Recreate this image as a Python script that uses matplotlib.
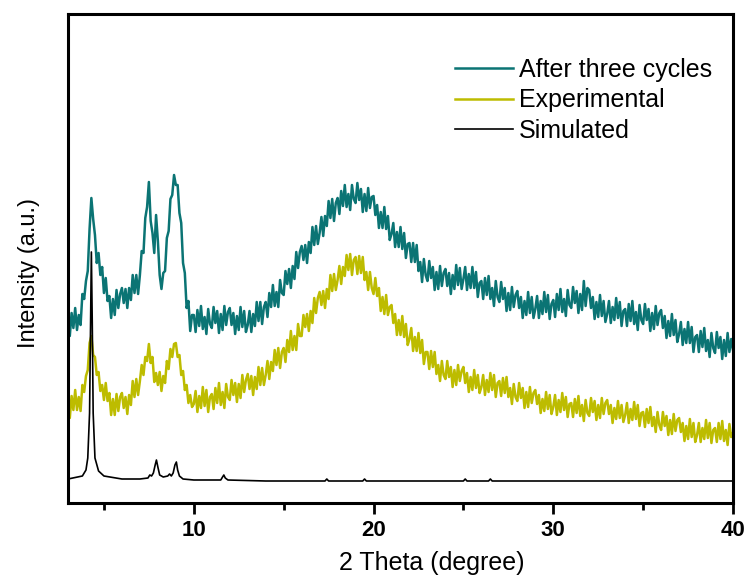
"""
XRD patterns: simulated vs. experimental vs. after three cycles.
Saves out.png (747x581).
"""
import matplotlib
matplotlib.use("Agg")
import matplotlib.pyplot as plt
import numpy as np

# --- data (intensity in a.u.) ---
# noisy patterns sampled every 0.1 deg from 3 to 40 deg
after_cycles = [
    183, 167, 190, 175, 195, 173, 188, 178, 209, 204,
    222, 232, 274, 305, 284, 268, 240, 250, 228, 236,
    210, 225, 202, 207, 185, 204, 188, 213, 195, 209,
    215, 200, 214, 195, 215, 203, 228, 210, 228, 209,
    228, 252, 250, 285, 296, 321, 282, 270, 250, 288,
    262, 228, 214, 230, 232, 265, 272, 304, 308, 328,
    318, 318, 290, 280, 240, 230, 195, 202, 172, 188,
    188, 171, 193, 177, 197, 174, 186, 169, 194, 179,
    175, 196, 180, 192, 170, 189, 173, 197, 178, 191,
    195, 178, 190, 169, 187, 173, 196, 176, 192, 171,
    178, 192, 171, 189, 177, 201, 182, 201, 179, 196,
    201, 186, 210, 196, 218, 197, 211, 196, 223, 210,
    208, 232, 219, 234, 215, 237, 224, 251, 235, 251,
    257, 243, 258, 240, 261, 250, 276, 258, 277, 259,
    270, 286, 267, 287, 277, 302, 285, 304, 282, 300,
    305, 289, 312, 297, 318, 296, 309, 293, 318, 304,
    300, 320, 303, 314, 291, 309, 292, 315, 295, 306,
    307, 288, 298, 275, 291, 275, 296, 274, 287, 263,
    269, 280, 256, 271, 256, 276, 254, 270, 245, 259,
    260, 241, 260, 241, 258, 232, 241, 221, 244, 228,
    222, 242, 225, 236, 213, 231, 214, 237, 217, 230,
    234, 217, 230, 209, 228, 214, 238, 218, 235, 214,
    224, 236, 213, 229, 215, 236, 215, 231, 206, 220,
    222, 204, 225, 208, 227, 204, 215, 197, 222, 206,
    201, 221, 204, 215, 192, 210, 193, 216, 196, 208,
    212, 195, 206, 185, 202, 188, 211, 190, 206, 185,
    194, 207, 185, 202, 189, 211, 191, 208, 184, 199,
    203, 186, 209, 193, 214, 191, 204, 187, 213, 198,
    195, 216, 200, 212, 190, 209, 193, 222, 197, 215,
    213, 195, 206, 184, 201, 186, 208, 187, 202, 181,
    189, 202, 180, 196, 183, 205, 185, 201, 177, 192,
    194, 177, 199, 182, 202, 179, 191, 173, 198, 183,
    179, 199, 183, 194, 172, 190, 174, 197, 178, 190,
    193, 175, 187, 165, 182, 167, 189, 168, 183, 161,
    169, 181, 158, 174, 160, 181, 160, 176, 151, 166,
    168, 151, 172, 156, 175, 152, 163, 146, 170, 155,
    150, 171, 155, 166, 144, 163, 147, 170, 151, 164,
    153,
]

experimental = [
    100, 85, 107, 93, 113, 93, 106, 92, 118, 111,
    127, 133, 160, 167, 148, 146, 128, 131, 112, 118,
    103, 120, 102, 110, 88, 104, 88, 109, 92, 106,
    110, 95, 106, 89, 108, 98, 122, 106, 124, 108,
    122, 138, 128, 146, 142, 159, 140, 146, 121, 130,
    118, 131, 112, 127, 120, 142, 134, 154, 146, 159,
    160, 146, 148, 128, 132, 113, 118, 100, 108, 96,
    99, 112, 91, 107, 95, 116, 97, 113, 91, 106,
    109, 94, 115, 100, 120, 98, 111, 95, 119, 106,
    103, 123, 108, 120, 101, 119, 105, 128, 111, 123,
    129, 114, 127, 108, 126, 114, 136, 118, 135, 118,
    128, 142, 124, 141, 132, 153, 138, 155, 135, 151,
    155, 141, 163, 151, 172, 153, 167, 153, 179, 167,
    167, 188, 176, 189, 172, 192, 180, 205, 190, 205,
    211, 198, 212, 195, 214, 204, 228, 212, 229, 213,
    223, 237, 219, 236, 227, 248, 233, 249, 228, 243,
    246, 229, 247, 230, 246, 223, 231, 213, 231, 215,
    209, 225, 207, 215, 192, 206, 189, 208, 188, 196,
    198, 180, 189, 168, 183, 168, 187, 166, 179, 158,
    164, 175, 152, 166, 152, 170, 150, 163, 139, 151,
    151, 134, 152, 136, 151, 129, 138, 122, 142, 128,
    124, 142, 126, 136, 116, 133, 118, 138, 122, 132,
    136, 120, 130, 111, 126, 113, 133, 115, 128, 110,
    116, 128, 108, 123, 111, 130, 113, 128, 106, 120,
    122, 107, 125, 110, 126, 106, 115, 99, 119, 106,
    102, 120, 105, 115, 95, 111, 96, 116, 100, 110,
    113, 99, 108, 90, 104, 92, 111, 94, 108, 89,
    96, 108, 88, 103, 91, 110, 93, 106, 86, 99,
    100, 86, 104, 90, 107, 87, 98, 82, 103, 90,
    87, 105, 91, 102, 83, 98, 85, 105, 89, 100,
    103, 89, 98, 80, 95, 84, 102, 85, 98, 81,
    88, 100, 80, 94, 83, 101, 84, 98, 77, 90,
    91, 76, 94, 80, 96, 77, 86, 71, 91, 78,
    73, 91, 77, 87, 68, 83, 69, 89, 72, 83,
    85, 71, 80, 62, 77, 64, 84, 66, 80, 61,
    68, 80, 61, 75, 64, 83, 65, 80, 60, 73,
    75, 61, 80, 64, 82, 62, 73, 58, 79, 66,
    70,
]

# simulated pattern (sharp reflections on a flat baseline)
sim_theta = [3.0, 3.8, 4.0, 4.1, 4.2, 4.25, 4.3, 4.35, 4.4, 4.5, 4.7, 5.0,
             6.0, 7.0, 7.45, 7.55, 7.65, 7.75, 7.85, 7.92, 8.0, 8.1, 8.3,
             8.55, 8.65, 8.75, 8.85, 8.95, 9.03, 9.1, 9.2, 9.4, 10.0, 11.5,
             11.6, 11.67, 11.75, 11.9, 14.0, 17.3, 17.4, 17.5, 19.4, 19.5,
             19.6, 21.0, 22.0, 25.0, 25.1, 25.2, 26.4, 26.5, 26.6, 31.0, 40.0]
sim_int = [24, 27, 33, 45, 90, 170, 251, 180, 90, 45, 32, 27,
           24, 24, 25, 28, 27, 30, 38, 43, 36, 28, 26,
           27, 29, 27, 30, 38, 41, 33, 27, 24, 23, 23,
           26, 28, 25, 23, 22, 22, 24, 22, 22, 24,
           22, 22, 22, 22, 24, 22, 22, 24, 22, 22, 22]

labels = ["After three cycles", "Experimental", "Simulated"]
colors = ["#0b7474", "#bdbc00", "black"]

x_tick_major = [10, 20, 30, 40]
x_tick_minor = [5, 15, 25, 35]

theta = np.linspace(3, 40, len(after_cycles))
theta_exp = np.linspace(3, 40, len(experimental))

plt.rcParams["font.family"] = ["Liberation Sans", "DejaVu Sans"]

fig = plt.figure(figsize=(7.47, 5.81), dpi=100)
ax = fig.add_axes([68 / 747, 78 / 581, 665 / 747, 489 / 581])

ax.plot(theta, after_cycles, color=colors[0], lw=1.8, label=labels[0])
ax.plot(theta_exp, experimental, color=colors[1], lw=1.8, label=labels[1])
ax.plot(sim_theta, sim_int, color=colors[2], lw=1.2, label=labels[2])

ax.set_xlim(3, 40)
ax.set_ylim(0, 489)
ax.set_yticks([])
ax.set_xticks(x_tick_major)
ax.set_xticks(x_tick_minor, minor=True)
ax.tick_params(axis="x", which="major", direction="out", length=8, width=2.0,
               pad=4)
ax.tick_params(axis="x", which="minor", direction="out", length=5, width=2.0)
ax.set_xticklabels([str(t) for t in x_tick_major], fontsize=16,
                   fontweight="bold",
                   family=["Liberation Sans Narrow", "Liberation Sans"])
for sp in ax.spines.values():
    sp.set_linewidth(2.2)

ax.set_xlabel("2 Theta (degree)", fontsize=18)
ax.xaxis.set_label_coords((432 - 68) / 665, -0.098)
ax.set_ylabel("Intensity (a.u.)", fontsize=17)
ax.yaxis.set_label_coords(-0.042, 0.47)

ax.legend(loc="upper left", frameon=False, fontsize=18, handlelength=2.3,
          handletextpad=0.25, labelspacing=0.25, borderpad=0, borderaxespad=0,
          bbox_to_anchor=(455 / 747, 1 - 58 / 581),
          bbox_transform=fig.transFigure)

fig.savefig("out.png", dpi=100)
